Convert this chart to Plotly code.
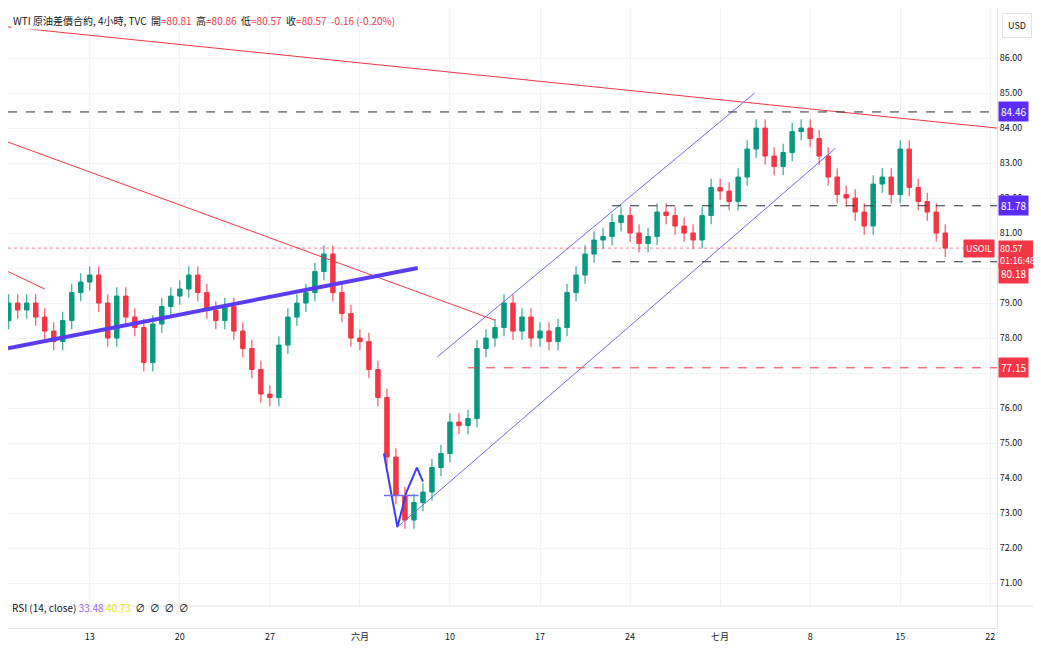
import pandas as pd
import plotly.graph_objects as go

# 12h bars, WTI crude (USOIL)
closes = [78.5, 79.0,
          78.8, 79.0, 78.6, 78.2, 77.9,
          78.5, 79.3, 79.6, 79.8, 79.0,
          78.0, 79.2, 78.6, 78.3, 77.3,
          78.4, 78.9, 79.2, 79.4, 79.8,
          79.3, 78.8, 78.5, 78.9, 78.2,
          77.7, 77.1, 76.4, 76.3, 77.8,
          78.6, 79.0, 79.3, 79.9, 80.4,
          79.3, 78.7, 78.0, 77.9, 77.1,
          76.3, 74.6, 73.5, 72.8, 73.3,
          73.6, 74.3, 74.7, 75.6, 75.5,
          75.7, 77.7, 78.0, 78.3, 79.0,
          78.2, 78.6, 78.0, 78.2, 77.9,
          78.3, 79.3, 79.8, 80.4, 80.8,
          80.9, 81.3, 81.5, 81.0, 80.7,
          80.9, 81.6, 81.5, 81.2, 81.0,
          80.8, 81.5, 82.3, 82.2, 81.9,
          82.6, 83.4, 84.0, 83.2, 82.9,
          83.3, 83.9, 84.0, 83.7, 83.2,
          82.6, 82.1, 82.0, 81.6, 81.2,
          82.4, 82.6, 82.1, 83.4, 82.3,
          81.9, 81.6, 81.0, 80.57]
first_open = 78.8
WICK = 0.25

days = pd.bdate_range("2024-05-06", "2024-07-17")
times = []
for d in days:
    times += [d, d + pd.Timedelta(hours=12)]
times = times[-len(closes):]

opens = [first_open] + closes[:-1]
highs = [max(o, c) + WICK for o, c in zip(opens, closes)]
lows = [min(o, c) - WICK for o, c in zip(opens, closes)]

x_start = "2024-05-06 11:00"
x_end = "2024-07-22 09:00"

# drawings: (start date, start price, end date, end price, colour, width)
trend_lines = [
    (x_start, 86.89, x_end, 84.0, "#f23645", 1),
    (x_start, 83.6, "2024-06-12 12:00", 78.51, "#f23645", 1),
    (x_start, 77.71, "2024-06-06 05:00", 80.0, "#5b3cf0", 4),
    ("2024-06-07 07:00", 77.46, "2024-07-02 22:00", 85.0, "#6c6cf5", 1),
    ("2024-06-05 02:00", 72.6, "2024-07-09 10:00", 83.43, "#6c6cf5", 1),
    (x_start, 79.9, "2024-05-08 12:00", 79.4, "#f23645", 1),
]
# horizontal levels: (start date, price, colour, dash, label bg, label shift)
levels = [
    (x_start, 84.46, "#2a2e39", "dash", "#5b2cf5", 0),
    ("2024-06-21 00:00", 81.78, "#2a2e39", "dash", "#5b2cf5", 0),
    ("2024-06-21 00:00", 80.18, "#2a2e39", "dash", "#f23645", -12),
    ("2024-06-11 00:00", 77.15, "#f23645", "dash", "#f23645", 0),
]
pattern_t = ["2024-06-04 08:00", "2024-06-05 02:00", "2024-06-05 14:00", "2024-06-06 04:00", "2024-06-06 12:00"]
pattern_p = [74.7, 72.6, 73.6, 74.3, 73.9]
neck_t = ["2024-06-04 08:00", "2024-06-06 06:00"]
neck_p = [73.5, 73.5]

last_price = 80.57
tick_dates = ["2024-05-13", "2024-05-20", "2024-05-27", "2024-06-03", "2024-06-10", "2024-06-17",
              "2024-06-24", "2024-07-01", "2024-07-08", "2024-07-15", "2024-07-22"]
tick_text = ["13", "20", "27", "六月", "10", "17", "24", "七月", "8", "15", "22"]
price_ticks = list(range(71, 87))

fig = go.Figure()
fig.add_trace(go.Candlestick(x=times, open=opens, high=highs, low=lows, close=closes,
                             increasing=dict(line=dict(color="#089981", width=1), fillcolor="#089981"),
                             decreasing=dict(line=dict(color="#f23645", width=1), fillcolor="#f23645"),
                             whiskerwidth=0, showlegend=False, hoverinfo="skip"))

for x0, y0, x1, y1, col, w in trend_lines:
    fig.add_shape(type="line", x0=x0, y0=y0, x1=x1, y1=y1, line=dict(color=col, width=w))

for x0, p, col, dash, bg, sh in levels:
    fig.add_shape(type="line", x0=x0, y0=p, x1=x_end, y1=p, line=dict(color=col, width=1, dash=dash))
    fig.add_annotation(x=1, xref="paper", xanchor="left", y=p, text=f"{p:.2f}", showarrow=False,
                       bgcolor=bg, font=dict(color="white", size=10), borderpad=2, xshift=1, yshift=sh)

fig.add_shape(type="line", x0=x_start, y0=last_price, x1=x_end, y1=last_price,
              line=dict(color="#f23645", width=1, dash="dot"), opacity=0.6)
fig.add_annotation(x=1, xref="paper", xanchor="left", y=last_price, yanchor="top", yshift=8, showarrow=False,
                   text=f"{last_price:.2f}<br>01:16:48", bgcolor="#f23645", align="left",
                   font=dict(color="white", size=9), borderpad=1, xshift=1)
fig.add_annotation(x=1, xref="paper", xanchor="right", y=last_price, showarrow=False, text="USOIL",
                   bgcolor="#f23645", font=dict(color="white", size=9), borderpad=2, xshift=-2)

fig.add_trace(go.Scatter(x=pattern_t, y=pattern_p, mode="lines", line=dict(color="#3d3df0", width=2),
                         showlegend=False, hoverinfo="skip"))
fig.add_trace(go.Scatter(x=neck_t, y=neck_p, mode="lines", line=dict(color="#6c6cf5", width=1.5),
                         showlegend=False, hoverinfo="skip"))

# RSI pane strip
fig.add_shape(type="rect", xref="paper", yref="paper", x0=0, x1=1, y0=0, y1=22 / 620,
              fillcolor="white", line=dict(width=0), layer="above")
fig.add_shape(type="line", xref="paper", yref="paper", x0=0, x1=1.1, y0=22 / 620, y1=22 / 620,
              line=dict(color="#e0e3eb", width=1))
fig.add_annotation(x=0, xref="paper", y=11 / 620, yref="paper", xanchor="left", showarrow=False,
                   text="RSI (14, close) <span style='color:#9c6cf0'>33.48</span> "
                        "<span style='color:#e8e800'>40.73</span>  ∅  ∅  ∅  ∅",
                   font=dict(size=10, color="#131722"), xshift=2)
fig.add_annotation(x=0, xref="paper", y=1, yref="paper", xanchor="left", yanchor="top", showarrow=False,
                   text="WTI 原油差價合約, 4小時, TVC  開<span style='color:#f23645'>=80.81</span>  "
                        "高<span style='color:#f23645'>=80.86</span>  低<span style='color:#f23645'>=80.57</span>  "
                        "收<span style='color:#f23645'>=80.57  -0.16 (-0.20%)</span>",
                   font=dict(size=10, color="#131722"), xshift=3, yshift=-3, bgcolor="white")
fig.add_annotation(x=1, xref="paper", xanchor="left", y=1, yref="paper", yanchor="top", showarrow=False,
                   text="USD", font=dict(size=9, color="#131722"), bordercolor="#e0e3eb", borderwidth=1,
                   borderpad=5, bgcolor="white", xshift=5, yshift=-5)

fig.update_layout(
    width=1041, height=650, margin=dict(l=0, r=52, t=0, b=30),
    plot_bgcolor="white", paper_bgcolor="white",
    font=dict(family="Noto Sans CJK TC, Noto Sans, sans-serif", size=10, color="#131722"),
    xaxis=dict(type="date", range=[x_start, x_end], rangeslider=dict(visible=False),
               rangebreaks=[dict(bounds=["sat", "mon"])], tickvals=tick_dates, ticktext=tick_text,
               showgrid=True, gridcolor="#f0f3fa", ticks="", showline=True, linecolor="#e0e3eb",
               tickfont=dict(size=9, color="#131722")),
    yaxis=dict(side="right", range=[87.43 - 620 / 35, 87.43], tickvals=price_ticks,
               ticktext=[f"{v:.2f}" for v in price_ticks], showgrid=True, gridcolor="#f0f3fa",
               zeroline=False, showline=True, linecolor="#e0e3eb", ticks="",
               tickfont=dict(size=9, color="#131722")),
)

fig.write_html("out.html")
